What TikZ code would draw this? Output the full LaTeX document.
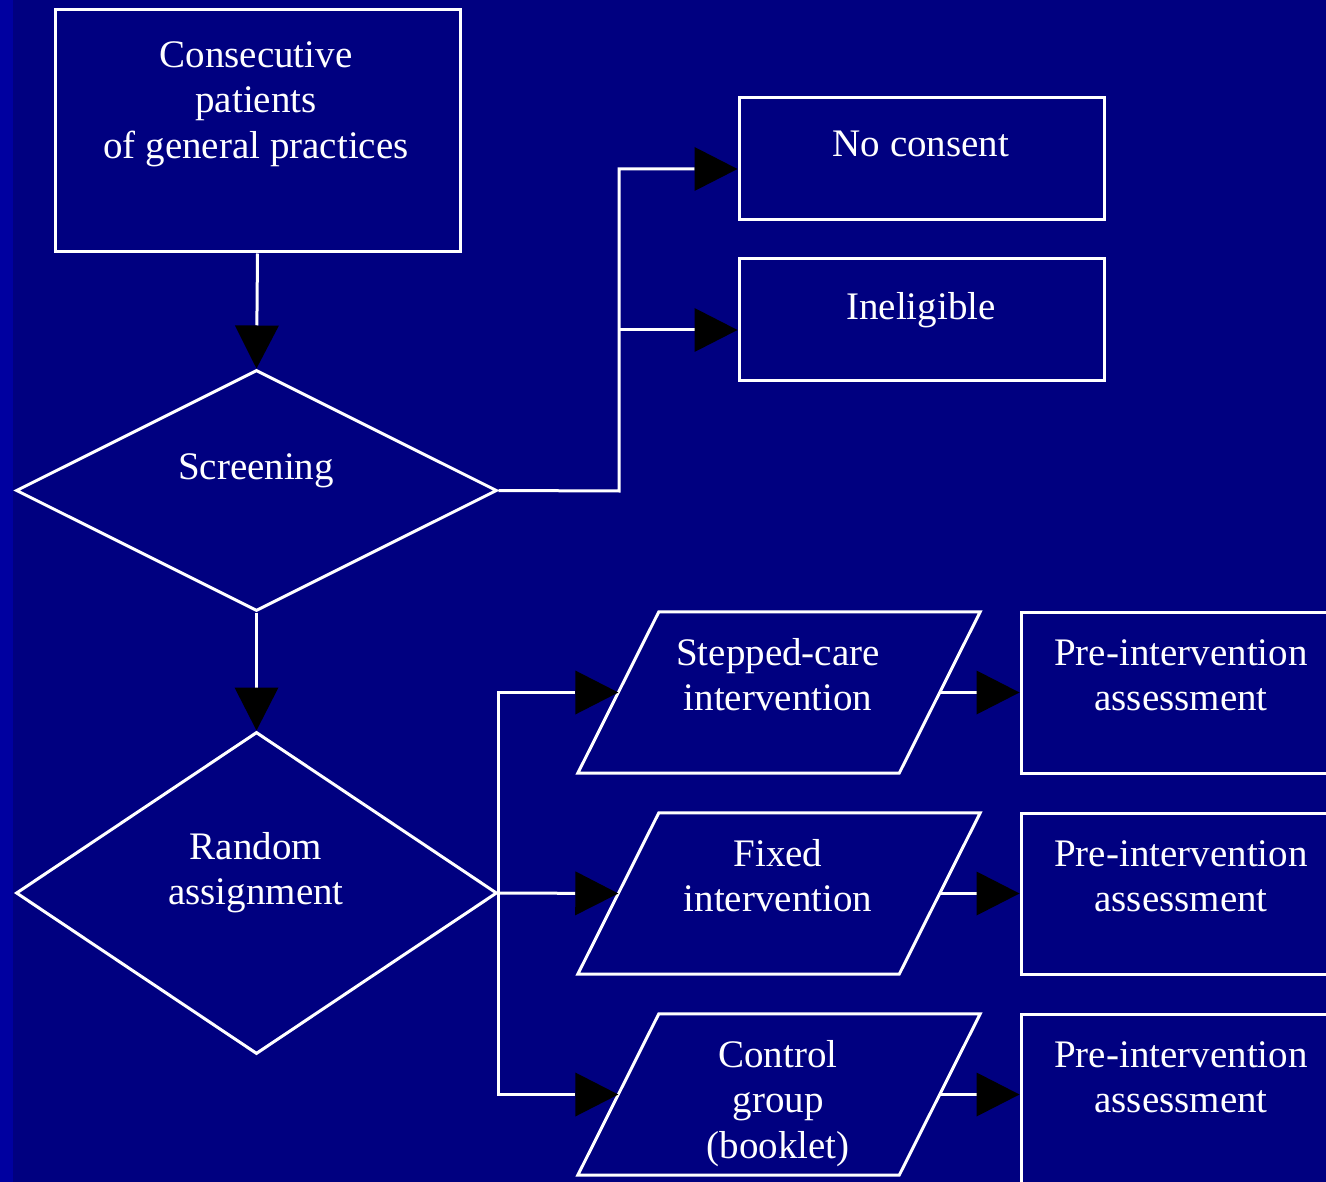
\documentclass[tikz,border=0pt]{standalone}
\usepackage{fontspec}
\setmainfont{Liberation Serif}
\usetikzlibrary{arrows.meta,shapes.geometric,calc}
\definecolor{navybg}{HTML}{000080}
\definecolor{stripbg}{HTML}{0000A0}
\begin{document}
\begin{tikzpicture}[x=1pt,y=-1pt,
  box/.style={draw=white,line width=3pt,rectangle,inner sep=0pt},
  decide/.style={draw=white,line width=3pt,diamond,inner sep=0pt},
  slot/.style={rectangle,inner sep=0pt,minimum width=321pt,minimum height=161pt},
  lbl/.style={text=white,align=center,anchor=north,inner sep=0pt,
    font=\fontsize{39}{45.5}\selectfont},
  conn/.style={draw=white,line width=3pt,
    -{Triangle[length=43pt,width=44pt,black,line width=0pt]}},
  wire/.style={draw=white,line width=3pt},
]
% page and background
\path[use as bounding box] (0,0) rectangle (1326,1182);
\clip (0,0) rectangle (1326,1182);
\fill[navybg] (0,0) rectangle (1326,1182);
\fill[stripbg] (0,0) rectangle (13,1182);

% boxes and decisions
\node[box,minimum width=405pt,minimum height=242pt] (cons) at (257.5,131) {};
\node[box,minimum width=365pt,minimum height=122pt] (nocons) at (921.5,159) {};
\node[box,minimum width=365pt,minimum height=122pt] (inel) at (921.5,320) {};
\node[decide,minimum width=481pt,minimum height=241pt] (scr) at (256.5,490.5) {};
\node[decide,minimum width=481pt,minimum height=322pt] (rand) at (256.5,893) {};

% parallelograms: invisible frames, slanted outlines
\foreach \n/\y in {p1/692.5,p2/893.5,p3/1094.5}{
  \node[slot] (\n) at (779,\y) {};
  \draw[wire] ($(\n.north west)+(40.5,0)$) -- ($(\n.north east)+(40.5,0)$)
    -- ($(\n.south east)-(40.5,0)$) -- ($(\n.south west)-(40.5,0)$) -- cycle;
}

% assessment boxes
\node[box,minimum width=320pt,minimum height=161pt] (pre1) at (1181,692.5) {};
\node[box,minimum width=320pt,minimum height=161pt] (pre2) at (1181,893.5) {};
\node[box,minimum width=320pt,minimum height=186pt] (pre3) at (1181,1107) {};

% labels
\node[lbl] (tcons) at (256,41) {Consecutive\\patients\\of general practices};
\node[lbl] (tnoc) at (921,131) {No consent};
\node[lbl] (tinel) at (921,292) {Ineligible};
\node[lbl] (tscr) at (256,453) {Screening};
\node[lbl] (trand) at (256,832) {Random\\assignment};
\node[lbl] (tp1) at (778,638) {Stepped-care\\intervention};
\node[lbl] (tp2) at (778,839) {Fixed\\intervention};
\node[lbl] (tp3) at (778,1040) {Control\\group\\(booklet)};
\node[lbl] (tpre1) at (1181,639) {Pre-intervention\\assessment};
\node[lbl] (tpre2) at (1181,840) {Pre-intervention\\assessment};
\node[lbl] (tpre3) at (1181,1041) {Pre-intervention\\assessment};

% connectors
\coordinate (sp) at (619,491);
\coordinate (ncin) at ($(nocons.west)+(0,10)$);
\coordinate (iein) at ($(inel.west)+(0,10)$);
\draw[conn] (cons.south) -- (scr.north);
\draw[conn] (scr.east) -- (sp) |- (ncin);
\draw[conn] (sp |- iein) -- (iein);
\draw[conn] (scr.south) -- (rand.north);
\draw[conn] (rand.east) |- (p1.west);
\draw[conn] (rand.east) -- (p2.west);
\draw[conn] (rand.east) |- (p3.west);
\draw[conn] (p1.east) -- (pre1.west);
\draw[conn] (p2.east) -- (pre2.west);
\draw[conn] (p3.east) -- (p3.east -| pre3.west);
\end{tikzpicture}
\end{document}
